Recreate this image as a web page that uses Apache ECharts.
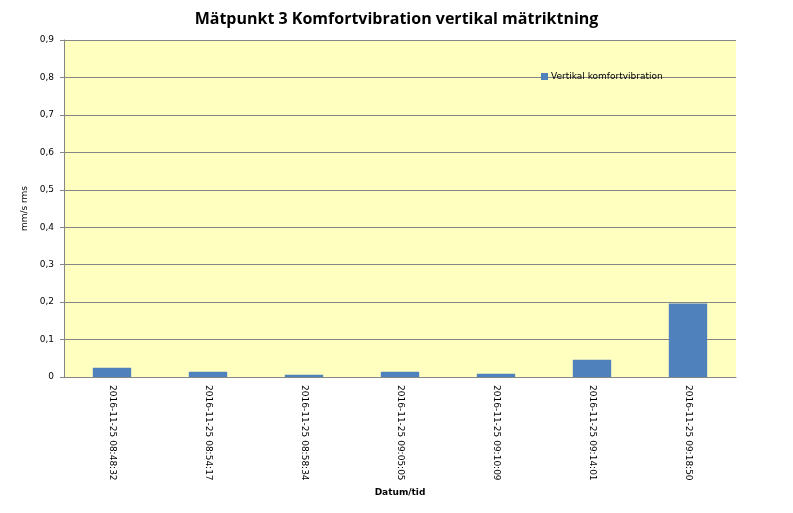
<!DOCTYPE html>
<html><head><meta charset="utf-8">
<script src="https://cdn.jsdelivr.net/npm/echarts@6/dist/echarts.min.js"></script>
<style>html,body{margin:0;padding:0;background:#fff}#c{width:793px;height:513px}</style>
</head><body><div id="c"></div>
<script>
const categories = ["2016-11-25 08:48:32","2016-11-25 08:54:17","2016-11-25 08:58:34","2016-11-25 09:05:05","2016-11-25 09:10:09","2016-11-25 09:14:01","2016-11-25 09:18:50"];
const values = [0.025, 0.014, 0.006, 0.014, 0.009, 0.046, 0.196];
const seriesName = "Vertikal komfortvibration";
const yTicks = {min: 0, max: 0.9, interval: 0.1};

const chart = echarts.init(document.getElementById('c'), null, {renderer: 'canvas'});
const lbl = {fontFamily: 'DejaVu Sans', fontSize: 9, color: '#000'};
chart.setOption({
  animation: false,
  title: {text: 'Mätpunkt 3 Komfortvibration vertikal mätriktning', left: 'center', top: 6,
    textStyle: {fontFamily: 'Open Sans', fontWeight: 'bold', fontSize: 16, color: '#000'}},
  legend: {data: [seriesName], left: 536, top: 67, itemWidth: 7, itemHeight: 7, itemGap: 2,
    icon: 'rect', textStyle: Object.assign({}, lbl, {padding: [0,0,0,-2]})},
  grid: {left: 64, right: 57, top: 40, bottom: 136, show: true, backgroundColor: '#FFFFC0', borderWidth: 0},
  xAxis: {type: 'category', data: categories, name: 'Datum/tid', nameLocation: 'middle', nameGap: 103,
    nameTextStyle: Object.assign({}, lbl, {fontWeight: 'bold'}),
    axisLine: {lineStyle: {color: '#868686'}},
    axisTick: {alignWithLabel: false, length: 4, lineStyle: {color: '#868686'}},
    axisLabel: Object.assign({}, lbl, {rotate: -90, margin: 8, interval: 0})},
  yAxis: {type: 'value', min: yTicks.min, max: yTicks.max, interval: yTicks.interval,
    name: 'mm/s rms', nameLocation: 'middle', nameGap: 25, nameTextStyle: lbl,
    axisLine: {show: true, lineStyle: {color: '#868686'}},
    axisTick: {show: true, length: 4, lineStyle: {color: '#868686'}},
    splitLine: {lineStyle: {color: '#868686'}},
    axisLabel: Object.assign({}, lbl, {margin: 10, formatter: v => String(Math.round(v*10)/10).replace('.', ',')})},
  series: [{type: 'bar', name: seriesName, data: values, barWidth: '40%', itemStyle: {color: '#4F81BD'}}]
});
</script></body></html>
